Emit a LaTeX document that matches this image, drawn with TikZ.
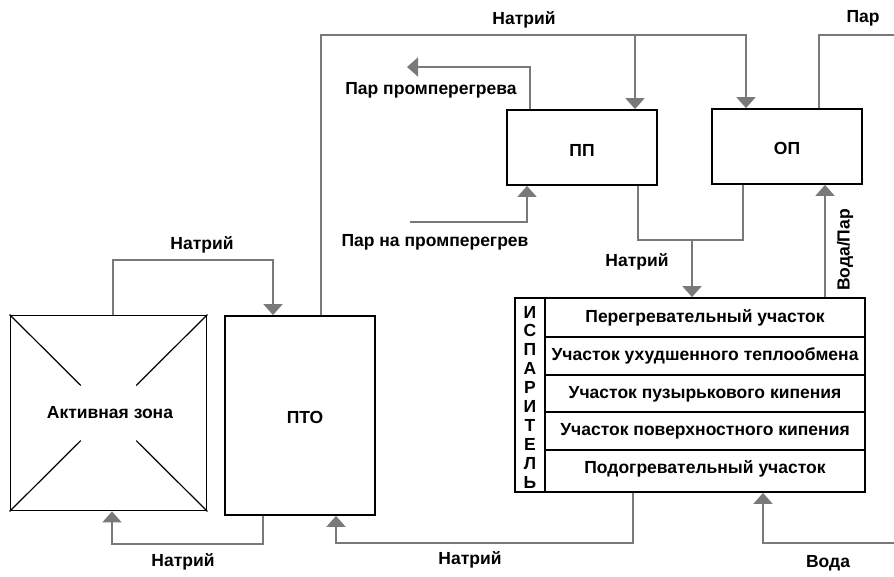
\documentclass[tikz,border=0pt]{standalone}
\usepackage{fontspec}
\setmainfont{Liberation Sans}
\usetikzlibrary{arrows.meta,calc}
\begin{document}
\begin{tikzpicture}[x=1pt,y=-1pt,
  lbl/.style={font=\fontsize{17.5}{19}\selectfont\bfseries, inner sep=0pt},
  box/.style={draw=black, line width=1.8pt, fill=white, inner sep=0pt},
  conn/.style={draw=gray!95!black, line width=1.8pt},
  arr/.style={conn, -{Triangle[width=19pt,length=11pt]}, shorten >=0pt},
  rowtxt/.style={lbl}]
\useasboundingbox (0,0) rectangle (894,576);
\fill[white] (0,0) rectangle (894,576);
% boxes
\node[box, minimum width=196pt, minimum height=195pt] (az) at (108.5,413) {};
\node[box, minimum width=150pt, minimum height=199pt] (pto) at (300,415.5) {};
\node[box, minimum width=150pt, minimum height=75pt] (pp) at (582,147.5) {};
\node[box, minimum width=150pt, minimum height=75pt] (op) at (787,146.5) {};
\node[box, minimum width=350pt, minimum height=194pt] (ev) at (690,395) {};
% active zone cross
\draw[line width=1.2pt] (az.north west) -- ($(az.north west)!0.36!(az.south east)$);
\draw[line width=1.2pt] (az.south east) -- ($(az.south east)!0.36!(az.north west)$);
\draw[line width=1.2pt] (az.north east) -- ($(az.north east)!0.36!(az.south west)$);
\draw[line width=1.2pt] (az.south west) -- ($(az.south west)!0.36!(az.north east)$);
\node[lbl] (azt) at (110,413) {Активная зона};
\node[lbl] (ptot) at (305,417) {ПТО};
\node[lbl] (ppt) at (582,150) {ПП};
\node[lbl] (opt) at (787,148) {ОП};
% evaporator internals
\draw[line width=1.2pt] (545,0 |- ev.north) -- (545,0 |- ev.south);
\foreach \yy in {337,375,412,450} \draw[line width=1.2pt] (545,\yy) -- (ev.east |- 0,\yy);
\node[lbl] (r1) at (705,318) {Перегревательный участок};
\node[lbl] (r2) at (705,356) {Участок ухудшенного теплообмена};
\node[lbl] (r3) at (705,394) {Участок пузырькового кипения};
\node[lbl] (r4) at (705,431) {Участок поверхностного кипения};
\node[lbl] (r5) at (705,469) {Подогревательный участок};
\foreach \ch [count=\i from 0] in {И,С,П,А,Р,И,Т,Е,Л,Ь}
  \node[lbl] (ev\i) at (530,312+\i*18.9) {\ch};
% connectors
\draw[arr] (113,0 |- az.north) -- (113,260) -| (273,0 |- pto.north);
\node[lbl] (n1) at (202,245) {Натрий};
\draw[arr] (263,0 |- pto.south) -- (263,544) -| (112,0 |- az.south);
\node[lbl] (n2) at (183,562) {Натрий};
\draw[arr] (633,0 |- ev.south) -- (633,543) -| (336,0 |- pto.south);
\node[lbl] (n3) at (470,560) {Натрий};
\coordinate (win) at (894,543);
\draw[arr] (win) -| (763,0 |- ev.south);
\node[lbl] (voda) at (828,563) {Вода};
\draw[arr] (321,0 |- pto.north) -- (321,35) -| (746,0 |- op.north);
\draw[arr] (635,35) -- (635,0 |- pp.north);
\node[lbl] (n4) at (524,20) {Натрий};
\coordinate (ppout) at (407,67);
\draw[arr] (530,0 |- pp.north) |- (ppout);
\node[lbl] (ppo) at (431,90) {Пар промперегрева};
\coordinate (ppin) at (410,222);
\draw[arr] (ppin) -| (527,0 |- pp.south);
\node[lbl] (ppi) at (435,242) {Пар на промперегрев};
\draw[conn] (638,0 |- pp.south) |- (743,240) -- (743,0 |- op.south);
\draw[arr] (692,240) -- (692,0 |- ev.north);
\node[lbl] (n5) at (637,262) {Натрий};
\draw[arr] (825,0 |- ev.north) -- (825,0 |- op.south);
\node[lbl, rotate=90] (vp) at (845,250) {Вода/Пар};
\coordinate (parout) at (905,35);
\draw[arr] (819,0 |- op.north) |- (parout);
\node[lbl] (par) at (863,18) {Пар};
\end{tikzpicture}
\end{document}
